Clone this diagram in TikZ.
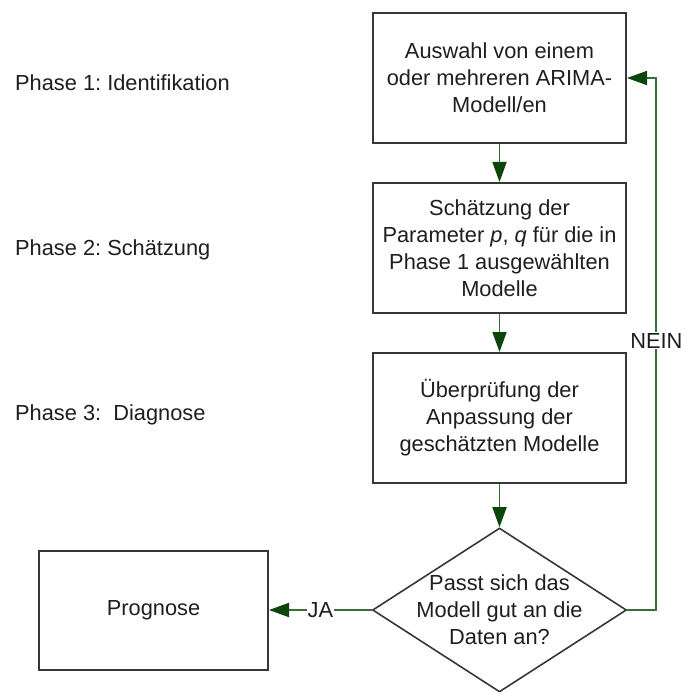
\documentclass[tikz,border=0pt]{standalone}
\usepackage{fontspec}
\setmainfont{Liberation Sans}
\usetikzlibrary{arrows.meta,shapes.geometric}
\definecolor{boxline}{RGB}{55,55,55}
\definecolor{flowgreen}{RGB}{60,110,60}
\definecolor{tipgreen}{RGB}{10,70,10}
\definecolor{txt}{RGB}{30,30,30}
\frenchspacing
\begin{document}
\begin{tikzpicture}[x=1pt,y=-1pt,
  every node/.style={font=\fontsize{21.8}{27}\selectfont, text=txt},
  stepbox/.style={draw=boxline, line width=2pt, rectangle, minimum width=253pt,
    minimum height=130pt, align=center, inner sep=0pt},
  decision/.style={draw=boxline, line width=1.6pt, diamond, inner sep=0pt,
    minimum width=254pt, minimum height=164pt},
  phase/.style={anchor=west, inner sep=0pt},
  flow/.style={draw=flowgreen, line width=1.8pt,
    -{Triangle[length=20pt,width=14pt,color=tipgreen]}},
  lbl/.style={fill=white, inner sep=1pt}]
\useasboundingbox (0,0) rectangle (684,692);

% phase captions on the left
\node[phase] (ph1) at (15,83) {Phase 1: Identifikation};
\node[phase] (ph2) at (15,250) {Phase 2: Schätzung};
\node[phase] (ph3) at (15,415) {Phase 3:\ \ Diagnose};

% process steps
\node[stepbox] (b1) at (499.5,78) {Auswahl von einem\\oder mehreren ARIMA-\\Modell/en};
\node[stepbox] (b2) at (499.5,248) {Schätzung der\\Parameter \textit{p}, \textit{q} für die in\\Phase 1 ausgewählten\\Modelle};
\node[stepbox] (b3) at (499.5,418) {Überprüfung der\\Anpassung der\\geschätzten Modelle};

% decision and outcome
\node[decision] (dec) at (499.5,610) {};
\node[align=center, inner sep=0pt] (dectext) at (dec.center) {Passt sich das\\Modell gut an die\\Daten an?};
\node[stepbox, minimum width=229pt, minimum height=119pt] (prog) at (153.5,610.5) {Prognose};

% connectors
\draw[flow] (b1.south) -- (b2.north);
\draw[flow] (b2.south) -- (b3.north);
\draw[flow] (b3.south) -- (dec.north);
\draw[flow] (dec.west) -- node[lbl] {JA} (dec.west -| prog.east);
\draw[flow] (dec.east) -- ++(29,0) |- node[lbl, pos=0.253] {NEIN} (b1.east);
\end{tikzpicture}
\end{document}
